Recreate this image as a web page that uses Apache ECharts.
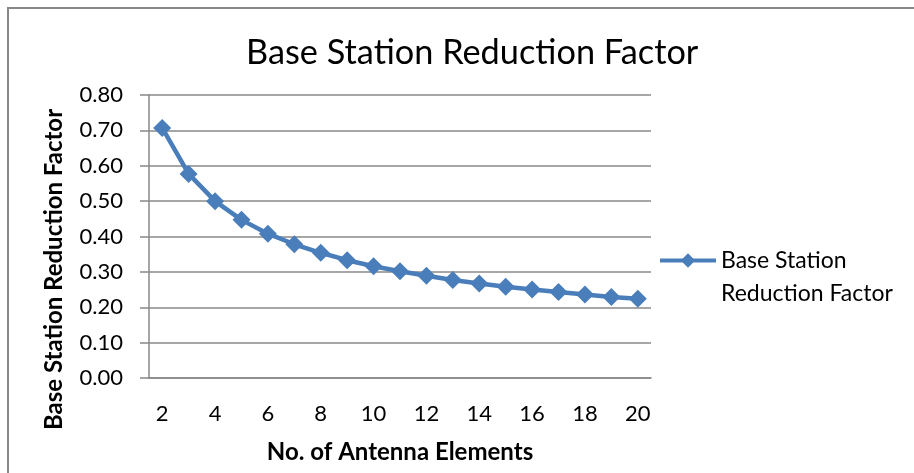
<!DOCTYPE html>
<html><head><meta charset="utf-8">
<script src="https://cdn.jsdelivr.net/npm/echarts@6/dist/echarts.min.js"></script>
<style>html,body{margin:0;padding:0;background:#fff}#c{width:914px;height:473px}</style>
</head><body><div id="c"></div>
<script>
var categories = ['2','3','4','5','6','7','8','9','10','11','12','13','14','15','16','17','18','19','20'];
var reductionFactor = [0.707,0.577,0.500,0.447,0.408,0.378,0.354,0.333,0.316,0.302,0.289,0.277,0.267,0.258,0.250,0.243,0.236,0.229,0.224];
var seriesName = 'Base Station\nReduction Factor';
var titleText = 'Base Station Reduction Factor';
var xName = 'No. of Antenna Elements';
var yName = 'Base Station Reduction Factor';
var FONT = 'Lato';
var chart = echarts.init(document.getElementById('c'));
chart.setOption({
  animation: false,
  backgroundColor: '#fff',
  graphic: [{type:'rect', shape:{x:8,y:8,width:920,height:480}, style:{fill:'none', stroke:'#888', lineWidth:2}, silent:true}],
  title: {text: titleText, left: 241, top: 31, itemGap:0,
    textStyle:{fontFamily:FONT, fontSize:34.3, fontWeight:'normal', color:'#000'}},
  grid: {left:149, right:263, top:95, bottom:95},
  legend: {left: 653, top: 206, orient:'vertical', itemWidth:56, itemHeight:18, itemGap:0,
    formatter: function(n){ return '\n' + n; },
    data:[{name: seriesName}],
    lineStyle:{width:4},
    textStyle:{fontFamily:FONT, fontSize:23, color:'#000', lineHeight:33}},
  xAxis: {type:'category', data: categories, boundaryGap:true,
    name: xName, nameLocation:'middle', nameGap:62,
    nameTextStyle:{fontFamily:FONT, fontSize:24, fontWeight:'bold', color:'#000'},
    axisLine:{show:true, lineStyle:{color:'#888', width:1.5}},
    axisTick:{show:false},
    axisLabel:{interval:1, margin:25, fontFamily:FONT, fontSize:22, color:'#000'},
    splitLine:{show:false}},
  yAxis: {type:'value', min:0, max:0.8, interval:0.1,
    name: yName, nameLocation:'middle', nameGap:83,
    nameTextStyle:{fontFamily:FONT, fontSize:24, fontWeight:'bold', color:'#000', padding:[0,66,0,0]},
    axisLine:{show:true, lineStyle:{color:'#888', width:1.5}},
    axisTick:{show:true, inside:false, length:9, lineStyle:{color:'#888', width:1.5}},
    axisLabel:{margin:26, fontFamily:FONT, fontSize:22, color:'#000', formatter:function(v){return v.toFixed(2);}},
    splitLine:{show:true, lineStyle:{color:'#888', width:1.5}}},
  series: [{name: seriesName, type:'line', data: reductionFactor,
    symbol:'diamond', symbolSize:18, showAllSymbol:true, lineStyle:{color:'#4a7ebb', width:4.5},
    itemStyle:{color:'#4a7ebb'}}]
});
</script></body></html>
